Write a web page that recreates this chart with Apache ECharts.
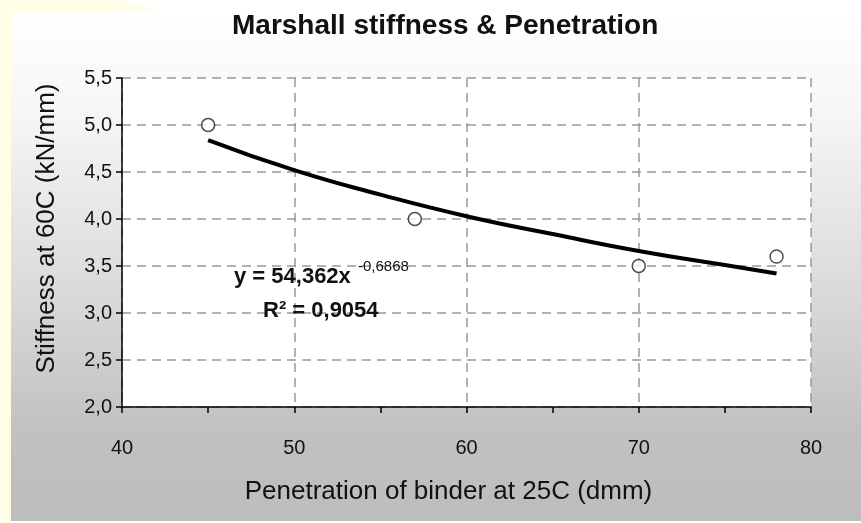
<!DOCTYPE html>
<html>
<head>
<meta charset="utf-8">
<script src="https://cdn.jsdelivr.net/npm/echarts@6/dist/echarts.min.js"></script>
<style>
html,body{margin:0;padding:0;background:#ffffff;}
#c{width:861px;height:523px;}
</style>
</head>
<body>
<div id="c"></div>
<script>
// Measured points (penetration dmm, stiffness kN/mm)
var penetration = [45, 57, 70, 78];
var stiffness = [5.0, 4.0, 3.5, 3.6];
// Trend line
var trendX = [45, 50, 55, 60, 65, 70, 75, 78];
var trendY = [4.84, 4.52, 4.26, 4.03, 3.84, 3.66, 3.51, 3.42];
var xTicks = [40, 50, 60, 70, 80];
var yTicks = [2.0, 2.5, 3.0, 3.5, 4.0, 4.5, 5.0, 5.5];

var FONT = 'Liberation Sans, Arial, sans-serif';
var chart = echarts.init(document.getElementById('c'), null, {renderer: 'canvas'});

var scatterData = penetration.map(function (x, i) { return [x, stiffness[i]]; });
var trendData = trendX.map(function (x, i) { return [x, trendY[i]]; });

var option = {
  animation: false,
  backgroundColor: '#ffffff',
  graphic: [
    {type: 'polygon', z: -10, silent: true,
     shape: {points: [[0,0],[120,0],[160,11],[11,11],[11,523],[0,523]]},
     style: {fill: '#ffffe8'}},
    {type: 'rect', z: -9, silent: true,
     shape: {x: 11, y: 11, width: 850, height: 510},
     style: {fill: new echarts.graphic.LinearGradient(0, 0, 0, 1, [
       {offset: 0, color: '#ffffff'},
       {offset: 0.2, color: '#f6f6f6'},
       {offset: 0.55, color: '#dadada'},
       {offset: 0.82, color: '#c1c1c1'},
       {offset: 1, color: '#bdbdbd'}
     ])}},
    {type: 'text', z: 50, left: 234, top: 266,
     style: {text: 'y = 54,362x', font: 'bold 22px ' + FONT, fill: '#111'}},
    {type: 'text', z: 50, left: 358, top: 259,
     style: {text: '-0,6868', font: '15px ' + FONT, fill: '#111'}},
    {type: 'text', z: 50, left: 263, top: 300,
     style: {text: 'R² = 0,9054', font: 'bold 22px ' + FONT, fill: '#111'}}
  ],
  title: {
    text: 'Marshall stiffness & Penetration',
    left: 232, top: 12, padding: 0,
    textStyle: {fontFamily: FONT, fontWeight: 'bold', fontSize: 28, color: '#111'}
  },
  grid: {left: 122, right: 50, top: 78, bottom: 116, show: true,
         backgroundColor: '#ffffff', borderWidth: 0},
  xAxis: {
    type: 'value', min: xTicks[0], max: xTicks[xTicks.length - 1], interval: 10,
    name: 'Penetration of binder at 25C (dmm)', nameLocation: 'middle', nameGap: 72,
    nameTextStyle: {fontFamily: FONT, fontSize: 26, color: '#111', padding: [0, 36, 0, 0]},
    axisLine: {show: true, lineStyle: {color: '#000', width: 1.5}},
    axisTick: {show: true, length: 6, lineStyle: {color: '#000', width: 1.5}},
    minorTick: {show: true, splitNumber: 2, length: 6, lineStyle: {color: '#000', width: 1.5}},
    axisLabel: {fontFamily: FONT, fontSize: 20, color: '#111', margin: 31},
    splitLine: {show: true, lineStyle: {color: '#999', width: 1.5, type: [9, 6]}}
  },
  yAxis: {
    type: 'value', min: yTicks[0], max: yTicks[yTicks.length - 1], interval: 0.5,
    name: 'Stiffness at 60C (kN/mm)', nameLocation: 'middle', nameGap: 62, nameRotate: 90,
    nameTextStyle: {fontFamily: FONT, fontSize: 26, color: '#111', padding: [0, 0, 0, 28]},
    axisLine: {show: true, lineStyle: {color: '#000', width: 1.5}},
    axisTick: {show: true, length: 6, lineStyle: {color: '#000', width: 1.5}},
    axisLabel: {fontFamily: FONT, fontSize: 20, color: '#111', margin: 10,
      formatter: function (v) { return v.toFixed(1).replace('.', ','); }},
    splitLine: {show: true, lineStyle: {color: '#999', width: 1.5, type: [9, 6]}}
  },
  series: [
    {type: 'line', data: trendData, smooth: true, showSymbol: false, symbol: 'none',
     lineStyle: {color: '#000', width: 4}, z: 3},
    {type: 'scatter', data: scatterData, symbol: 'circle', symbolSize: 13,
     itemStyle: {color: '#ffffff', borderColor: '#222', borderWidth: 1.5}, z: 4}
  ]
};
chart.setOption(option);
</script>
</body>
</html>
